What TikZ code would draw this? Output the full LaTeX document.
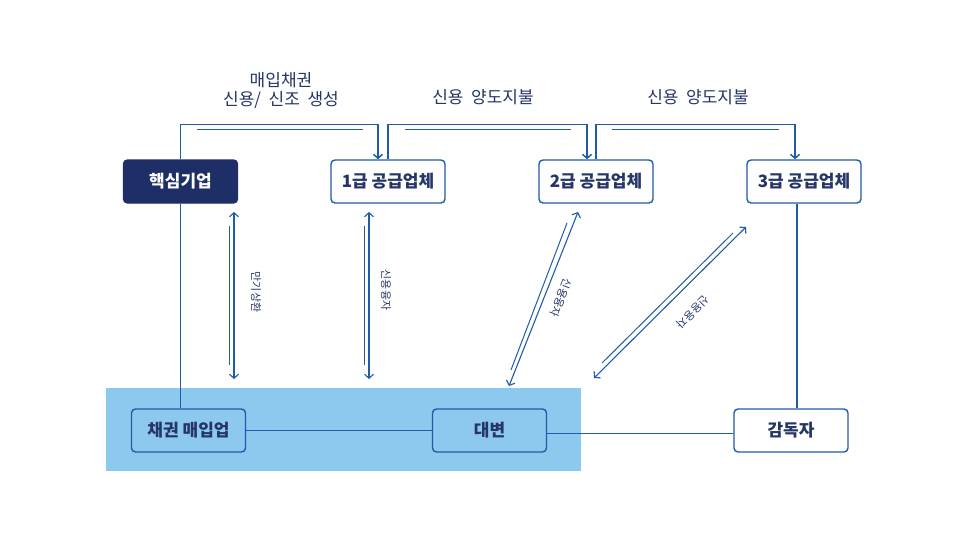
\documentclass[tikz,border=0pt]{standalone}
\usepackage{fontspec}
\setmainfont{Noto Sans CJK KR}
\usetikzlibrary{arrows.meta,positioning,calc}
\definecolor{lineblue}{HTML}{1F5BA8}
\definecolor{navytext}{HTML}{253566}
\definecolor{darkfill}{HTML}{1E2E66}
\definecolor{lightblue}{HTML}{8DC8EE}
\tikzset{
  boxbase/.style={rounded corners=4pt, minimum width=114pt, minimum height=43pt, inner sep=0pt, line width=1.4pt, font=\fontsize{17}{20}\selectfont\bfseries},
  whitebox/.style={boxbase, draw=lineblue, fill=white, text=navytext},
  darkbox/.style={boxbase, draw=darkfill, fill=darkfill, text=white},
  bluebox/.style={boxbase, draw=lineblue, fill=lightblue, text=navytext},
  conn/.style={draw=lineblue, line width=1.5pt},
  arr/.style={conn, -{Straight Barb[length=4pt,width=9pt,line width=1.5pt]}},
  darr/.style={draw=lineblue, line width=1.1pt, {Straight Barb[length=4pt,width=9pt,line width=1.1pt]}-{Straight Barb[length=4pt,width=9pt,line width=1.1pt]}},
  thin/.style={draw=lineblue, line width=1pt},
  toplabel/.style={text=navytext, font=\fontsize{17}{22}\selectfont, align=center},
  sidelabel/.style={text=navytext, font=\fontsize{11}{13}\selectfont, inner sep=0pt}
}
\begin{document}
\begin{tikzpicture}[x=1pt,y=-1pt]
\useasboundingbox (0,0) rectangle (966,543);
% background band
\fill[lightblue] (106,388) rectangle (581,471);

% nodes
\node[darkbox]  (core) at (180.5,181.5) {핵심기업};
\node[whitebox] (s1)   at (388,181.5) {1급 공급업체};
\node[whitebox] (s2)   at (596,181.5) {2급 공급업체};
\node[whitebox] (s3)   at (804,181.5) {3급 공급업체};
\node[bluebox]  (buyer) at (188.5,430.5) {채권 매입업};
\node[bluebox]  (ledger) at (489.5,430.5) {대변};
\node[whitebox] (sup)  at (791,430.5) {감독자};

% top brackets
\draw[arr] (core.north) -- ++(0,-35) -| ([xshift=-10pt]s1.north);
\draw[arr] (s1.north) -- ++(0,-35) -| ([xshift=-9pt]s2.north);
\draw[arr] (s2.north) -- ++(0,-35) -| ([xshift=-9pt]s3.north);
\draw[thin] (197,129) -- (363,129);
\draw[thin] (405,129) -- (571,129);
\draw[thin] (612,129) -- (779,129);

\node[toplabel] (lab1) at (281,90) {매입채권\\[-3pt]신용/\ \ 신조\ \ 생성};
\node[toplabel] (lab2) at (483,97) {신용\ \ 양도지불};
\node[toplabel] (lab3) at (698,97) {신용\ \ 양도지불};

% vertical connections
\draw[conn] (core.south) -- (core.south |- buyer.north);
\draw[conn] ([xshift=-7pt]s3.south) -- ([xshift=-7pt]s3.south |- sup.north);
\draw[conn] (buyer.east) -- (ledger.west);
\draw[conn] ([yshift=-3pt]ledger.east) -- ([yshift=-3pt]sup.west);

% double arrows
\coordinate (a1t) at (234,212);
\coordinate (a1b) at (234,379);
\draw[darr] (a1t) -- (a1b);
\draw[thin] (229,226) -- (229,365);
\node[sidelabel, rotate=-90] (l1) at (256,292) {만기상환};

\coordinate (a2t) at (369,212);
\coordinate (a2b) at (369,379);
\draw[darr] (a2t) -- (a2b);
\draw[thin] (364,226) -- (364,365);
\node[sidelabel, rotate=-90] (l2) at (386,290) {신용융자};

\coordinate (a3t) at (578,212);
\coordinate (a3b) at (509,386);
\draw[darr] (a3t) -- (a3b);
\draw[thin] (567,223) -- (511,370);
\node[sidelabel, rotate=-111] (l3) at (561,298) {신용융자};

\coordinate (a4t) at (746,227);
\coordinate (a4b) at (594,378);
\draw[darr] (a4t) -- (a4b);
\draw[thin] (733,233) -- (602,363);
\node[sidelabel, rotate=-135] (l4) at (693,312) {신용융자};
\end{tikzpicture}
\end{document}
